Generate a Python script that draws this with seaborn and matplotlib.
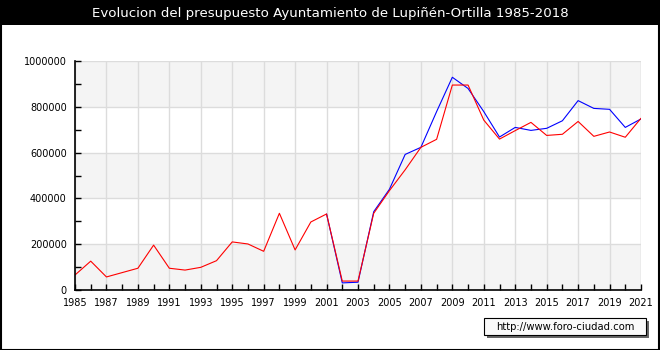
import matplotlib
matplotlib.use("Agg")
import matplotlib.pyplot as plt
from matplotlib.patches import Rectangle
from matplotlib.ticker import MultipleLocator
import pandas as pd
import seaborn as sns

# Budget figures (euros) per year
years_red = list(range(1985, 2022))
values_red = [
    65500, 126000, 57000, 76000, 95000, 196000, 95000, 87000, 99000, 128000,
    210000, 201000, 169000, 335000, 175000, 297000, 332000, 39000, 39000, 335000,
    434000, 525000, 623000, 658000, 895000, 895000, 742000, 659000, 696000, 732000,
    675000, 680000, 736000, 671000, 690000, 667000, 750000,
]
years_blue = list(range(2001, 2022))
values_blue = [
    332000, 31000, 34000, 342000, 440000, 592000, 623000, 779000, 929000, 880000,
    779000, 668000, 710000, 697000, 706000, 739000, 827000, 793000, 789000, 710000,
    747000,
]
x_tick_labels = [str(y) for y in range(1985, 2022, 2)]
y_tick_values = list(range(0, 1000001, 200000))

title = "Evolucion del presupuesto Ayuntamiento de Lupiñén-Ortilla 1985-2018"
source = "http://www.foro-ciudad.com"

sns.set_theme(style="white")
plt.rcParams["font.family"] = ["DejaVu Sans"]

red_df = pd.DataFrame({"year": years_red, "value": values_red})
blue_df = pd.DataFrame({"year": years_blue, "value": values_blue})

fig = plt.figure(figsize=(6.6, 3.5), dpi=100)
fig.patch.set_facecolor("white")

# Title bar and outer frame
fig.patches.append(Rectangle((0, 1 - 25 / 350), 1, 25 / 350, transform=fig.transFigure,
                             facecolor="black", edgecolor="none", zorder=0))
fig.patches.append(Rectangle((0.5 / 660, 0.5 / 350), 658 / 660, 348 / 350,
                             transform=fig.transFigure, facecolor="none",
                             edgecolor="black", linewidth=1.5, zorder=5))
fig.text(0.5, 1 - 13.5 / 350, title, color="white", ha="center", va="center", fontsize=9.6)

ax = fig.add_axes([75 / 660, 1 - 290 / 350, 566 / 660, 229 / 350])
ax.set_facecolor("white")

# Alternating horizontal bands
for lo in range(0, 1000000, 400000):
    ax.axhspan(lo, lo + 200000, color="#f4f4f4", zorder=0, linewidth=0)

sns.lineplot(data=blue_df, x="year", y="value", ax=ax, color="#0000ff", linewidth=0.8, zorder=3)
sns.lineplot(data=red_df, x="year", y="value", ax=ax, color="#ff0000", linewidth=0.8, zorder=4)

ax.set_xlim(1985, 2021)
ax.set_ylim(0, 1000000)
ax.set_xticks(range(1985, 2022, 2))
ax.set_xticklabels(x_tick_labels)
ax.xaxis.set_minor_locator(MultipleLocator(1))
ax.set_yticks(y_tick_values)
ax.set_yticklabels([str(v) for v in y_tick_values])
ax.yaxis.set_minor_locator(MultipleLocator(100000))
ax.set_xlabel("")
ax.set_ylabel("")

ax.grid(True, which="major", color="#dcdcdc", linewidth=1.0, zorder=1)
ax.set_axisbelow(True)
ax.axvline(2021, color="#dcdcdc", linewidth=1.0, zorder=1)

for side in ("top", "right"):
    ax.spines[side].set_visible(False)
for side in ("left", "bottom"):
    ax.spines[side].set_color("black")
    ax.spines[side].set_linewidth(1.2)
    ax.spines[side].set_zorder(6)

ax.tick_params(axis="both", which="both", direction="in", color="black",
               labelsize=7, labelcolor="black")
ax.tick_params(axis="both", which="major", length=4, width=1, pad=6)
ax.tick_params(axis="both", which="minor", length=4, width=1)
ax.tick_params(axis="x", which="both", bottom=True)
ax.tick_params(axis="y", which="both", left=True)

# Source box with shadow
fig.patches.append(Rectangle((487 / 660, 1 - 338 / 350), 162 / 660, 17 / 350,
                             transform=fig.transFigure, facecolor="#666666",
                             edgecolor="none", zorder=6))
fig.patches.append(Rectangle((484 / 660, 1 - 335 / 350), 162 / 660, 17 / 350,
                             transform=fig.transFigure, facecolor="#fafafa",
                             edgecolor="black", linewidth=0.8, zorder=7))
fig.text(565 / 660, 1 - 326.5 / 350, source, ha="center", va="center",
         fontsize=7.2, color="black", zorder=8)

fig.savefig("out.png", dpi=100)
